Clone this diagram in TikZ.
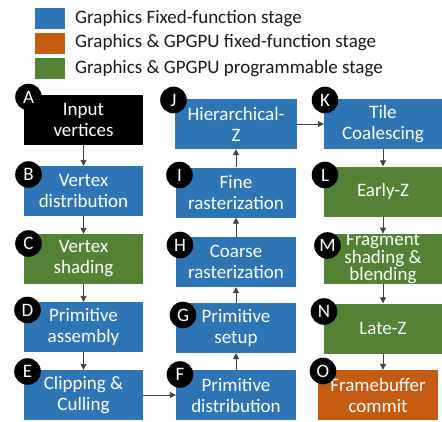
\documentclass[tikz,border=0pt]{standalone}
\usepackage{fontspec}
\setmainfont{Carlito}
\usetikzlibrary{arrows.meta}

\definecolor{fixblue}{HTML}{2E75B6}
\definecolor{gpuorange}{HTML}{C55A11}
\definecolor{gpugreen}{HTML}{548235}
\definecolor{arrowgray}{HTML}{404040}

\begin{document}
\begin{tikzpicture}[x=1pt, y=-1pt,
  font=\fontsize{19}{21}\selectfont,
  stage/.style={minimum width=119pt, minimum height=50pt, inner sep=0pt, align=center, text=white},
  fixedfn/.style={stage, fill=fixblue},
  gpgpufix/.style={stage, fill=gpuorange},
  prog/.style={stage, fill=gpugreen},
  tag/.style={circle, fill=black, text=white, minimum size=26.6pt, inner sep=0pt},
  legkey/.style={minimum width=30pt, minimum height=21pt, inner sep=0pt},
  flow/.style={draw=arrowgray, line width=0.9pt, -{Triangle[length=6pt,width=6pt]}}]

\useasboundingbox (0,0) rectangle (442,421);

% legend
\node[legkey, fill=fixblue] (key-fixed) at (50,18.5) {};
\node[legkey, fill=gpuorange] (key-gpufix) at (50,43) {};
\node[legkey, fill=gpugreen] (key-prog) at (50,68.5) {};
\node[anchor=west, inner sep=0pt, text=black!90] (key-fixed-txt) at (75,18.5) {Graphics Fixed-function stage};
\node[anchor=west, inner sep=0pt, text=black!90] (key-gpufix-txt) at (75,43) {Graphics \& GPGPU fixed-function stage};
\node[anchor=west, inner sep=0pt, text=black!90] (key-prog-txt) at (75,68.5) {Graphics \& GPGPU programmable stage};

% geometry stages, top to bottom
\node[stage, fill=black] (a-box) at (83.5,120) {Input\\vertices};
\node[fixedfn] (b-box) at (83.5,191) {Vertex\\distribution};
\node[prog] (c-box) at (83.5,259) {Vertex\\shading};
\node[fixedfn] (d-box) at (83.5,327) {Primitive\\assembly};
\node[fixedfn] (e-box) at (83.5,395) {Clipping \&\\Culling};

% raster stages, bottom to top
\node[fixedfn, minimum width=120pt] (f-box) at (236,395) {Primitive\\distribution};
\node[fixedfn, minimum width=120pt] (g-box) at (236,328) {Primitive\\setup};
\node[fixedfn, minimum width=120pt] (h-box) at (236,262) {Coarse\\rasterization};
\node[fixedfn, minimum width=120pt] (i-box) at (236,192.5) {Fine\\rasterization};
\node[fixedfn, minimum width=122pt] (j-box) at (236,124) {Hierarchical-\\Z};

% pixel stages, top to bottom
\node[fixedfn, minimum width=118pt] (k-box) at (383,124) {Tile\\Coalescing};
\node[prog, minimum width=118pt] (l-box) at (383,191.5) {Early-Z};
\node[prog, minimum width=118pt, font=\fontsize{19}{17.5}\selectfont] (m-box) at (383,259) {Fragment\\shading \&\\blending};
\node[prog, minimum width=118pt] (n-box) at (383,328.5) {Late-Z};
\node[gpgpufix, minimum width=120pt] (o-box) at (378,395) {Framebuffer\\commit};

% letter tags
\node[tag] (a-label) at (28.5,97) {A};
\node[tag] (b-label) at (28.5,174.5) {B};
\node[tag] (c-label) at (28.5,243.5) {C};
\node[tag] (d-label) at (27.5,310) {D};
\node[tag] (e-label) at (27.5,371.5) {E};
\node[tag] (f-label) at (180,374.5) {F};
\node[tag] (g-label) at (183,315) {G};
\node[tag] (h-label) at (180,245) {H};
\node[tag] (i-label) at (179.5,175) {I};
\node[tag] (j-label) at (173.5,100) {J};
\node[tag] (k-label) at (325,100) {K};
\node[tag] (l-label) at (325,175) {L};
\node[tag] (m-label) at (327.5,245.5) {M};
\node[tag] (n-label) at (324,311.5) {N};
\node[tag] (o-label) at (323,371) {O};

% connectors
\draw[flow] (a-box) -- (b-box);
\draw[flow] (b-box) -- (c-box);
\draw[flow] (c-box) -- (d-box);
\draw[flow] (d-box) -- (e-box);
\draw[flow] (e-box) -- (f-box);
\draw[flow] (f-box) -- (g-box);
\draw[flow] (g-box) -- (h-box);
\draw[flow] (h-box) -- (i-box);
\draw[flow] (i-box) -- (j-box);
\draw[flow] (j-box) -- (k-box);
\draw[flow] (k-box) -- (l-box);
\draw[flow] (l-box) -- (m-box);
\draw[flow] (m-box) -- (n-box);
\draw[flow] (n-box.south) -- (n-box.south |- o-box.north);

\end{tikzpicture}
\end{document}
